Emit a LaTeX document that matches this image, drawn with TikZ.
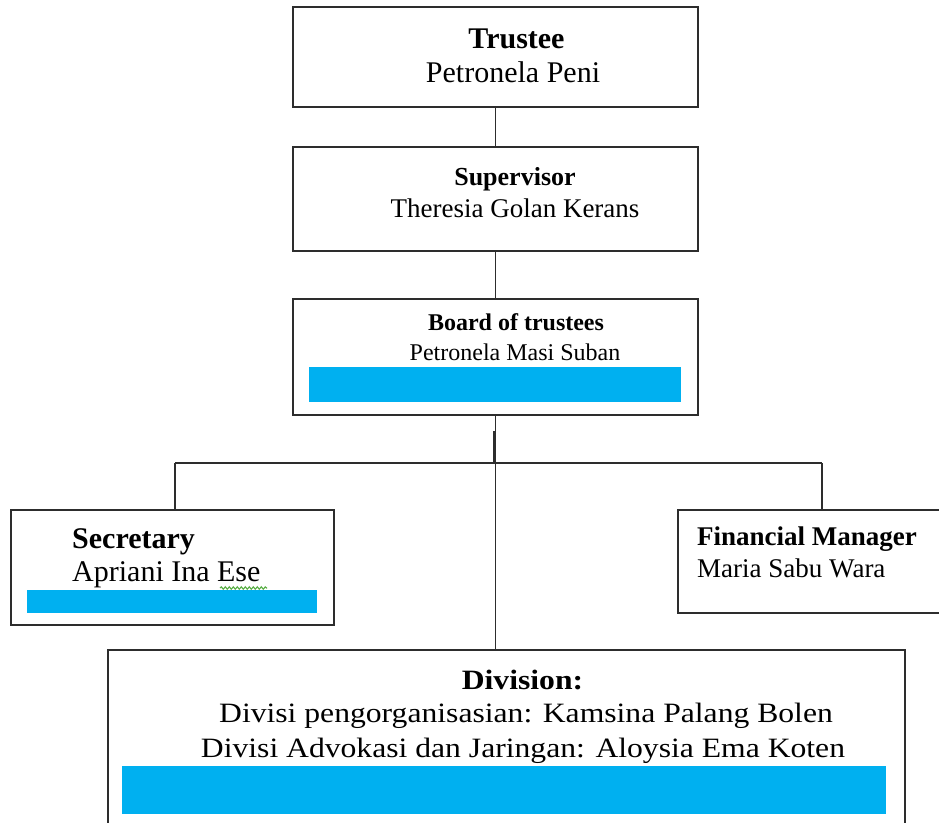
\documentclass[tikz,border=0pt]{standalone}
\usepackage{fontspec}
\setmainfont{Liberation Serif}
\newfontfamily\divfont[FakeStretch=1.13]{Liberation Serif}
\usetikzlibrary{decorations.pathmorphing}
\definecolor{barblue}{RGB}{0,176,240}
\definecolor{linegray}{RGB}{45,45,45}
\definecolor{squiggle}{RGB}{90,175,70}
\begin{document}
\begin{tikzpicture}[x=1pt,y=-1pt,
  box/.style={draw=linegray,line width=1.7pt,fill=white,inner sep=0pt},
  bar/.style={fill=barblue,draw=none,inner sep=0pt},
  link/.style={draw=linegray,line width=1.7pt},
  lbl/.style={inner sep=0pt,anchor=base},
  lblw/.style={inner sep=0pt,anchor=base west}]
\useasboundingbox (0,0) rectangle (939,822);
\clip (0,0) rectangle (939,822);
% boxes
\node[box,minimum width=405pt,minimum height=100pt] (trustee) at (495.5,57) {};
\node[box,minimum width=405pt,minimum height=104pt] (supervisor) at (495.5,199) {};
\node[box,minimum width=405pt,minimum height=116pt] (board) at (495.5,357) {};
\node[box,minimum width=323pt,minimum height=115pt] (secretary) at (172.5,567.5) {};
\node[box,minimum width=272pt,minimum height=103pt] (financial) at (814,561.5) {};
\node[box,minimum width=797pt,minimum height=190pt] (division) at (506.5,745) {};
% blue bars
\node[bar,minimum width=372pt,minimum height=35pt] (boardbar) at (495,384.5) {};
\node[bar,minimum width=290pt,minimum height=23pt] (secbar) at (172,601.5) {};
\node[bar,minimum width=764pt,minimum height=48pt] (divbar) at (504,790) {};
% connectors
\coordinate (lhub) at (175,463);
\coordinate (rhub) at (822,463);
\coordinate (jtop) at (494,431);
\coordinate (jbot) at (494,463);
\draw[link] (trustee.south) -- (supervisor.north);
\draw[link] (supervisor.south) -- (board.north);
\draw[link] (board.south) -- (division.north -| board.south);
\draw[link] (jtop) -- (jbot);
\draw[link] (lhub) -- (rhub);
\draw[link] (lhub) -- (lhub |- secretary.north);
\draw[link] (rhub) -- (rhub |- financial.north);
% texts
\node[lbl,font=\fontsize{30}{36}\bfseries\selectfont] (t1) at (516.5,48) {Trustee};
\node[lbl,font=\fontsize{30}{36}\selectfont] (t2) at (513,82) {Petronela Peni};
\node[lbl,font=\fontsize{26}{31}\bfseries\selectfont] (s1) at (515,185) {Supervisor};
\node[lbl,font=\fontsize{27}{32}\selectfont] (s2) at (515,217) {Theresia Golan Kerans};
\node[lbl,font=\fontsize{24}{29}\bfseries\selectfont] (b1) at (516,330) {Board of trustees};
\node[lbl,font=\fontsize{24}{29}\selectfont] (b2) at (515,360) {Petronela Masi Suban};
\node[lblw,font=\fontsize{30}{36}\bfseries\selectfont] (c1) at (72,548) {Secretary};
\node[lblw,font=\fontsize{30}{36}\selectfont] (c2) at (72,581) {Apriani Ina Ese};
\node[lblw,font=\fontsize{27}{32}\bfseries\selectfont] (f1) at (697,545) {Financial Manager};
\node[lblw,font=\fontsize{27}{32}\selectfont] (f2) at (697,577) {Maria Sabu Wara};
\node[lbl,font=\divfont\fontsize{28}{33}\bfseries\selectfont] (d1) at (522.5,689) {Division:};
\node[lbl,font=\divfont\fontsize{28}{33}\selectfont] (d2) at (526,722) {Divisi pengorganisasian: Kamsina Palang Bolen};
\node[lbl,font=\divfont\fontsize{28}{33}\selectfont] (d3) at (523,757) {Divisi Advokasi dan Jaringan: Aloysia Ema Koten};
% spelling squiggle
\draw[squiggle,line width=1.1pt,decorate,decoration={snake,segment length=4pt,amplitude=1.2pt}] (220,588) -- (267,588);
\end{tikzpicture}
\end{document}
